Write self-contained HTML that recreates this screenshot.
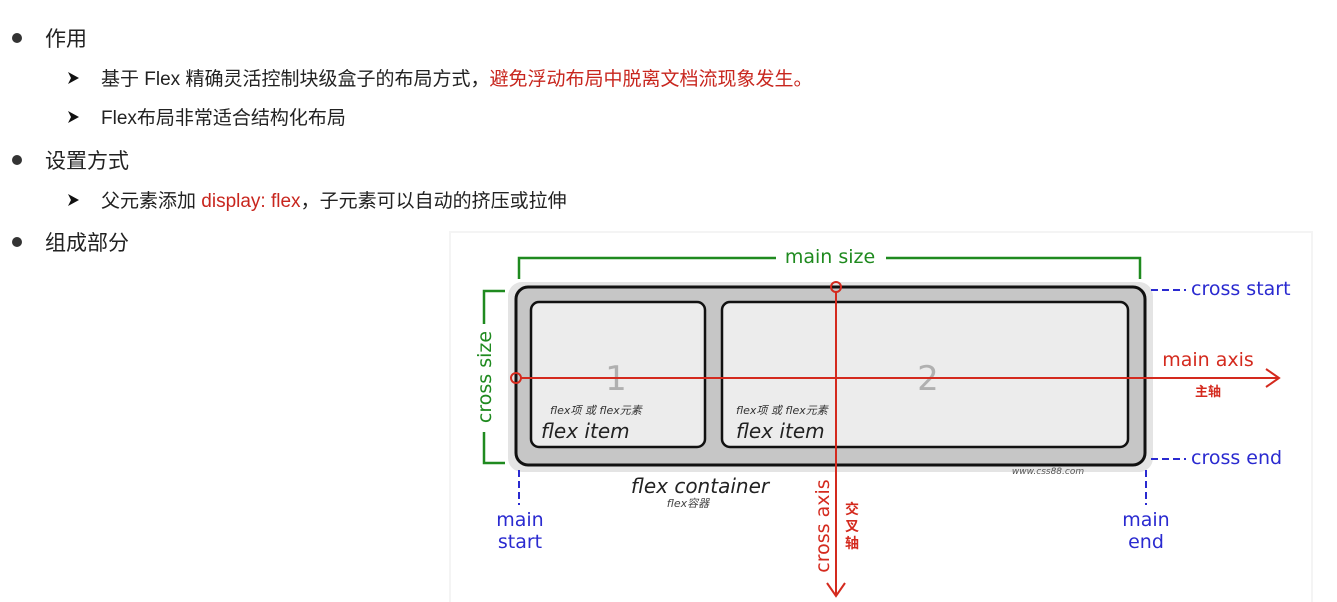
<!DOCTYPE html>
<html><head><meta charset="utf-8"><style>
html,body{margin:0;padding:0;background:#fff;width:1337px;height:602px;overflow:hidden}
svg{display:block}
.t{font-family:"Liberation Sans","Noto Sans CJK SC",sans-serif;fill:#222}
.d{font-family:"DejaVu Sans","Noto Sans CJK SC",sans-serif}
</style></head><body>
<svg width="1337" height="602" viewBox="0 0 1337 602" xmlns="http://www.w3.org/2000/svg">
<rect x="0" y="0" width="1337" height="602" fill="#fff"/>
<!-- left text -->
<circle cx="17" cy="38" r="5" fill="#333"/>
<text class="t" x="45" y="46" font-size="21">作用</text>
<path d="M68 72 L79 78 L68 84 L71 78 Z" fill="#111"/>
<text class="t" x="101" y="85" font-size="19">基于 Flex 精确灵活控制块级盒子的布局方式，<tspan fill="#c8261e">避免浮动布局中脱离文档流现象发生。</tspan></text>
<path d="M68 111 L79 117 L68 123 L71 117 Z" fill="#111"/>
<text class="t" x="101" y="124" font-size="19">Flex布局非常适合结构化布局</text>
<circle cx="17" cy="160" r="5" fill="#333"/>
<text class="t" x="45" y="168" font-size="21">设置方式</text>
<path d="M68 194 L79 200 L68 206 L71 200 Z" fill="#111"/>
<text class="t" x="101" y="207" font-size="19">父元素添加 <tspan fill="#c8261e">display: flex</tspan>，子元素可以自动的挤压或拉伸</text>
<circle cx="17" cy="242" r="5" fill="#333"/>
<text class="t" x="45" y="250" font-size="21">组成部分</text>

<!-- panel -->
<rect x="450" y="232" width="862" height="372" fill="#fff" stroke="#f4f4f4" stroke-width="2"/>
<!-- main size bracket -->
<path d="M519 279 V258 H776 M886 258 H1140 V279" stroke="#1f8a1f" stroke-width="2.5" fill="none"/>
<text class="d" x="830" y="263" font-size="19" fill="#1f8a1f" text-anchor="middle">main size</text>
<!-- cross size bracket -->
<path d="M505 291 H484 V324 M484 432 V463 H505" stroke="#1f8a1f" stroke-width="2.5" fill="none"/>
<text class="d" x="0" y="0" font-size="19" fill="#1f8a1f" text-anchor="middle" transform="translate(491 377) rotate(-90)">cross size</text>
<!-- container -->
<rect x="508" y="282" width="645" height="190" rx="14" fill="#e4e4e4"/>
<rect x="516" y="287" width="629" height="178" rx="12" fill="#c6c6c6" stroke="#111" stroke-width="3"/>
<rect x="531" y="302" width="174" height="145" rx="8" fill="#ececec" stroke="#111" stroke-width="2.5"/>
<rect x="722" y="302" width="406" height="145" rx="8" fill="#ececec" stroke="#111" stroke-width="2.5"/>
<text class="d" x="616" y="390" font-size="34" fill="#b0b0b0" text-anchor="middle">1</text>
<text class="d" x="928" y="390" font-size="34" fill="#b0b0b0" text-anchor="middle">2</text>
<text class="d" x="550" y="414" font-size="11" font-style="italic" fill="#333">flex项 或 flex元素</text>
<text class="d" x="541" y="438" font-size="20" font-style="italic" fill="#222">flex item</text>
<text class="d" x="736" y="414" font-size="11" font-style="italic" fill="#333">flex项 或 flex元素</text>
<text class="d" x="736" y="438" font-size="20" font-style="italic" fill="#222">flex item</text>
<text class="d" x="700" y="493" font-size="20" font-style="italic" fill="#222" text-anchor="middle">flex container</text>
<text class="d" x="688" y="507" font-size="11" font-style="italic" fill="#444" text-anchor="middle">flex容器</text>
<text class="d" x="1048" y="474" font-size="9" font-style="italic" fill="#555" text-anchor="middle">www.css88.com</text>
<!-- red axes -->
<line x1="521" y1="378" x2="1278" y2="378" stroke="#d42a1e" stroke-width="2"/>
<path d="M1266 369 L1279 378 L1266 387" stroke="#d42a1e" stroke-width="2" fill="none"/>
<circle cx="516" cy="378" r="5" fill="none" stroke="#d42a1e" stroke-width="2"/>
<line x1="836" y1="292" x2="836" y2="594" stroke="#d42a1e" stroke-width="2"/>
<path d="M827 583 L836 596 L845 583" stroke="#d42a1e" stroke-width="2" fill="none"/>
<circle cx="836" cy="287" r="5" fill="none" stroke="#d42a1e" stroke-width="2"/>
<text class="d" x="1208" y="366" font-size="19" fill="#d42a1e" text-anchor="middle">main axis</text>
<text class="d" x="1208" y="396" font-size="13" font-weight="bold" fill="#d42a1e" text-anchor="middle">主轴</text>
<text class="d" x="0" y="0" font-size="19" fill="#d42a1e" text-anchor="middle" transform="translate(829 526) rotate(-90)">cross axis</text>
<text class="d" x="852" y="514" font-size="14" font-weight="bold" fill="#d42a1e" text-anchor="middle">交</text>
<text class="d" x="852" y="531" font-size="14" font-weight="bold" fill="#d42a1e" text-anchor="middle">叉</text>
<text class="d" x="852" y="548" font-size="14" font-weight="bold" fill="#d42a1e" text-anchor="middle">轴</text>
<!-- blue -->
<line x1="1151" y1="290" x2="1186" y2="290" stroke="#2a2ad0" stroke-width="2" stroke-dasharray="7 4"/>
<text class="d" x="1191" y="295" font-size="19" fill="#2a2ad0">cross start</text>
<line x1="1151" y1="459" x2="1186" y2="459" stroke="#2a2ad0" stroke-width="2" stroke-dasharray="7 4"/>
<text class="d" x="1191" y="464" font-size="19" fill="#2a2ad0">cross end</text>
<line x1="519" y1="470" x2="519" y2="505" stroke="#2a2ad0" stroke-width="2" stroke-dasharray="7 4"/>
<text class="d" x="520" y="526" font-size="19" fill="#2a2ad0" text-anchor="middle">main</text>
<text class="d" x="520" y="548" font-size="19" fill="#2a2ad0" text-anchor="middle">start</text>
<line x1="1146" y1="470" x2="1146" y2="505" stroke="#2a2ad0" stroke-width="2" stroke-dasharray="7 4"/>
<text class="d" x="1146" y="526" font-size="19" fill="#2a2ad0" text-anchor="middle">main</text>
<text class="d" x="1146" y="548" font-size="19" fill="#2a2ad0" text-anchor="middle">end</text>
</svg>
</body></html>
